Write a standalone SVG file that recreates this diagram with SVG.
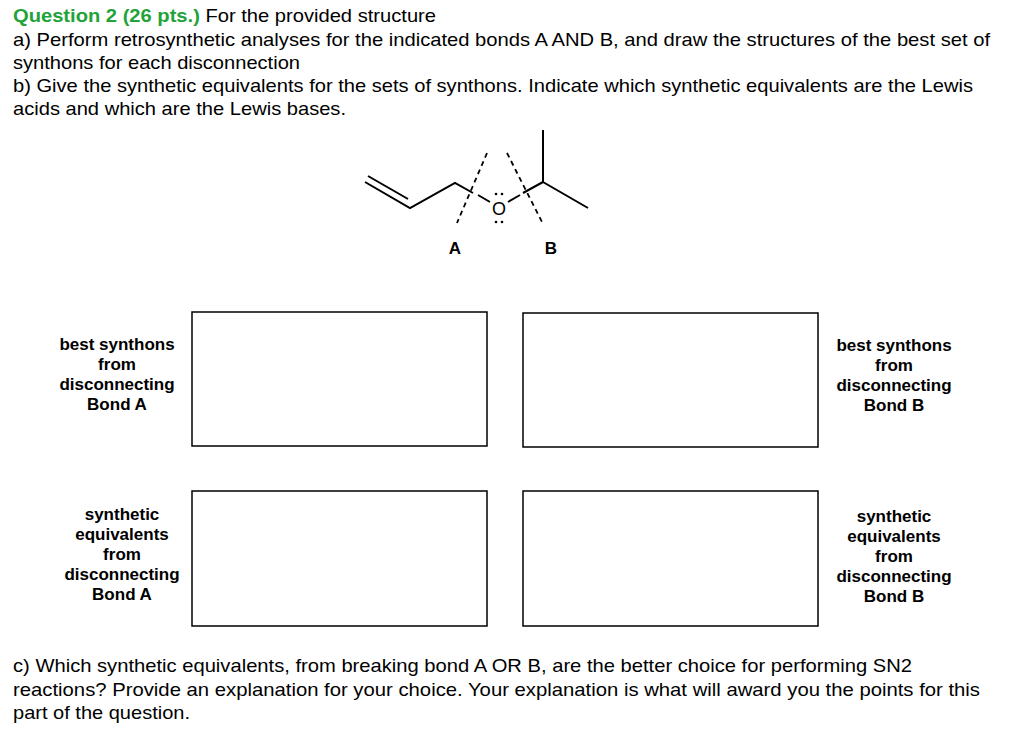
<svg xmlns="http://www.w3.org/2000/svg" width="1024" height="734" viewBox="0 0 1024 734">
<style>
text{font-family:"Liberation Sans",Arial,sans-serif;font-size:18.5px;fill:#000}
.b{font-weight:bold;font-size:17px}
.box{fill:none;stroke:#000;stroke-width:1.5}
.bond{stroke:#000;stroke-width:2;fill:none}
.dash{stroke:#000;stroke-width:1.8;stroke-dasharray:5,4}
</style>
<rect width="1024" height="734" fill="#fff"/>
<g id="header">
<text x="13" y="22" textLength="423" lengthAdjust="spacingAndGlyphs"><tspan font-weight="bold" fill="#22a33a">Question 2 (26 pts.)</tspan> For the provided structure</text>
<text x="13" y="46" textLength="977" lengthAdjust="spacingAndGlyphs">a) Perform retrosynthetic analyses for the indicated bonds A AND B, and draw the structures of the best set of</text>
<text x="13" y="69" textLength="287" lengthAdjust="spacingAndGlyphs">synthons for each disconnection</text>
<text x="13" y="92" textLength="960" lengthAdjust="spacingAndGlyphs">b) Give the synthetic equivalents for the sets of synthons. Indicate which synthetic equivalents are the Lewis</text>
<text x="13" y="115" textLength="333" lengthAdjust="spacingAndGlyphs">acids and which are the Lewis bases.</text>
</g>
<g id="molecule">
<polyline class="bond" points="365,182 410,208 455,183 473,193"/>
<line class="bond" x1="368" y1="176" x2="408" y2="199"/>
<line class="bond" x1="523" y1="193" x2="543" y2="182"/>
<polyline class="bond" points="543,130 543,182 588,208"/>
<line class="bond" x1="478" y1="195" x2="490" y2="202"/>
<line class="bond" x1="508" y1="202" x2="520" y2="195"/>
<text x="499" y="215" text-anchor="middle" style="font-size:18px">O</text>
<circle cx="496" cy="194" r="1.3"/><circle cx="502" cy="194" r="1.3"/>
<circle cx="496" cy="222" r="1.3"/><circle cx="502" cy="222" r="1.3"/>
<line class="dash" x1="487" y1="153" x2="457" y2="223"/>
<line class="dash" x1="507" y1="153" x2="543" y2="224"/>
<text x="455" y="254" text-anchor="middle" class="b">A</text>
<text x="551" y="254" text-anchor="middle" class="b">B</text>
</g>
<g id="box1"><rect class="box" x="192" y="312" width="295" height="134"/>
<text class="b" text-anchor="middle"><tspan x="117" y="350">best synthons</tspan><tspan x="117" y="370">from</tspan><tspan x="117" y="390">disconnecting</tspan><tspan x="117" y="410">Bond A</tspan></text></g>
<g id="box2"><rect class="box" x="523" y="313" width="295" height="134"/>
<text class="b" text-anchor="middle"><tspan x="894" y="351">best synthons</tspan><tspan x="894" y="371">from</tspan><tspan x="894" y="391">disconnecting</tspan><tspan x="894" y="411">Bond B</tspan></text></g>
<g id="box3"><rect class="box" x="192" y="491" width="295" height="135"/>
<text class="b" text-anchor="middle"><tspan x="122" y="520">synthetic</tspan><tspan x="122" y="540">equivalents</tspan><tspan x="122" y="560">from</tspan><tspan x="122" y="580">disconnecting</tspan><tspan x="122" y="600">Bond A</tspan></text></g>
<g id="box4"><rect class="box" x="523" y="491" width="295" height="135"/>
<text class="b" text-anchor="middle"><tspan x="894" y="522">synthetic</tspan><tspan x="894" y="542">equivalents</tspan><tspan x="894" y="562">from</tspan><tspan x="894" y="582">disconnecting</tspan><tspan x="894" y="602">Bond B</tspan></text></g>
<g id="footer">
<text x="13" y="672" textLength="899" lengthAdjust="spacingAndGlyphs">c) Which synthetic equivalents, from breaking bond A OR B, are the better choice for performing SN2</text>
<text x="13" y="696" textLength="967" lengthAdjust="spacingAndGlyphs">reactions?  Provide an explanation for your choice. Your explanation is what will award you the points for this</text>
<text x="13" y="719" textLength="177" lengthAdjust="spacingAndGlyphs">part of the question.</text>
</g>
</svg>
